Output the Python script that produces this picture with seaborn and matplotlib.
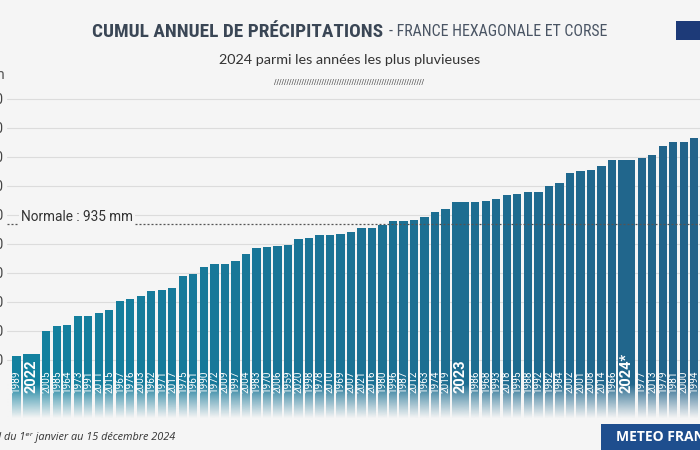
import numpy as np
import pandas as pd
import matplotlib
matplotlib.use("Agg")
import matplotlib.pyplot as plt
import seaborn as sns
from matplotlib import font_manager
from matplotlib.patches import Rectangle
from matplotlib.transforms import blended_transform_factory
from matplotlib.colors import to_rgb

# ---------------- data ----------------
years = ["1989", "2022", "2005", "1985", "1964", "1973", "1991", "2011", "2015", "1967",
         "1976", "2003", "1962", "1971", "2017", "1975", "1961", "1990", "1972", "2009",
         "1997", "2004", "1983", "1970", "2006", "1959", "2020", "1998", "1978", "2010",
         "1969", "2007", "2021", "2016", "1980", "1996", "1987", "2012", "1963", "1974",
         "2019", "2023", "1986", "1968", "1993", "2018", "1995", "1988", "1992", "1982",
         "1984", "2002", "2001", "2008", "2014", "1966", "2024*", "1977", "2013", "1979",
         "1981", "2000", "1994"]
values = [707, 710, 750, 758, 761, 776, 776, 781, 786, 801,
          805, 810, 819, 820, 824, 845, 848, 860, 865, 866,
          871, 882, 893, 895, 897, 899, 909, 910, 916, 916,
          918, 921, 927, 927, 933, 940, 940, 941, 947, 956,
          960, 972, 972, 974, 978, 985, 986, 990, 990, 1000,
          1006, 1023, 1026, 1027, 1035, 1044, 1044, 1049, 1053, 1069,
          1075, 1076, 1083]
highlight = ["2022", "2023", "2024*"]
normale = 935
yticks = [700, 750, 800, 850, 900, 950, 1000, 1050, 1100, 1150]

title_bold = "CUMUL ANNUEL DE PRÉCIPITATIONS"
title_light = "- FRANCE HEXAGONALE ET CORSE"
subtitle = "2024 parmi les années les plus pluvieuses"
footer = "*Cumul du 1\u1d49\u02b3 janvier au 15 décembre 2024"

# ---------------- style ----------------
sns.set_theme(style="white")
plt.rcParams["font.family"] = ["Roboto", "DejaVu Sans"]

available = {f.name for f in font_manager.fontManager.ttflist}
def pick(*names):
    for n in names:
        if n in available:
            return n
    return "DejaVu Sans"
narrow = pick("Liberation Sans Narrow", "DejaVu Sans Condensed", "Roboto Condensed", "Roboto")

BG = "#f5f5f5"
W, H = 700, 450
fig = plt.figure(figsize=(7, 4.5), dpi=100, facecolor=BG)

def pv(y):  # pixel row -> value (used only for layout positions)
    return 700 + (360 - y) * 50 / 29

y_lo, y_hi = pv(418), pv(87.4)
ax = fig.add_axes([7 / W, 1 - 418 / H, 693 / W, (418 - 87.4) / H])
ax.set_facecolor(BG)

slot = np.array([1.83 if y in highlight else 1.0 for y in years])
starts = np.concatenate([[0], np.cumsum(slot)[:-1]])
centers = starts + slot / 2

df = pd.DataFrame({"x": centers, "year": years, "value": values})
palette = sns.blend_palette(["#13819f", "#22638a"], len(years))
sns.barplot(data=df, x="x", y="value", hue="year", hue_order=years, palette=palette,
            native_scale=True, width=0.79, saturation=1, legend=False, dodge=False, ax=ax,
            zorder=2)

# widen highlighted bars
for p in ax.patches:
    cx = p.get_x() + p.get_width() / 2
    i = int(np.argmin(np.abs(centers - cx)))
    bw = slot[i] - 0.21
    p.set_x(centers[i] - bw / 2)
    p.set_width(bw)
    p.set_linewidth(0)

# year labels inside bars
for c, y in zip(centers, years):
    big = y in highlight
    ax.text(c, pv(393), y, rotation=90, ha="center", va="bottom", color="white",
            fontsize=10.5 if big else 7.2, fontweight="bold" if big else "normal",
            zorder=3)

xl = (-0.40, 65.54)
# bottom fade
grad = np.zeros((64, 1, 4))
grad[:, 0, :3] = to_rgb(BG)
grad[:, 0, 3] = np.linspace(0, 1, 64) ** 0.9
ax.imshow(grad, extent=[xl[0], xl[1], y_lo, pv(384)], aspect="auto", zorder=5,
          interpolation="bilinear")

ax.set_xlim(*xl)
ax.set_ylim(y_lo, y_hi)
ax.set_xticks([])
ax.set_xlabel("")
ax.set_ylabel("")
ax.set_yticks(yticks)
ax.set_yticklabels([str(v) for v in yticks])
ax.tick_params(axis="y", length=0, pad=2.5, labelsize=10, labelcolor="#444")
ax.yaxis.grid(True, color="#dcdcdc", lw=0.8)
ax.set_axisbelow(True)
for s in ax.spines.values():
    s.set_visible(False)

# normale
ax.axhline(normale, color="#555555", ls=(0, (1.6, 1.6)), lw=0.9, zorder=4)
tr = blended_transform_factory(ax.transAxes, ax.transData)
ax.text(0.0205, 947, f"Normale : {normale} mm", transform=tr, ha="left", va="center",
        fontsize=9.8, color="#333333", zorder=4,
        bbox=dict(facecolor=BG, edgecolor="none", pad=1.5))

fig.text(5 / W, 1 - 75 / H, "mm", ha="right", va="center", fontsize=10.5, color="#555")

# ---------------- titles ----------------
fig.canvas.draw()
renderer = fig.canvas.get_renderer()
def fit(t, target):
    w = t.get_window_extent(renderer).width
    t.set_fontsize(t.get_fontsize() * target / w)
    return t

t1 = fig.text(383 / W, 1 - 32 / H, title_bold, ha="right", va="center", fontsize=18,
              family=narrow, fontweight="bold", color="#3a4655")
fit(t1, 291)
t2 = fig.text(389 / W, 1 - 32 / H, title_light, ha="left", va="center", fontsize=18,
              family=narrow, color="#4a5564")
fit(t2, 219)
t3 = fig.text(350 / W, 1 - 60 / H, subtitle, ha="center", va="center", fontsize=10,
              family=["Lato", "DejaVu Sans"], color="#333333")
fit(t3, 263)
t4 = fig.text(349 / W, 1 - 82 / H, "/" * 60, ha="center", va="center", fontsize=5,
              family="DejaVu Sans", color="#444444")
fit(t4, 152)

fig.text(175 / W, 1 - 437 / H, footer, ha="right", va="center", fontsize=7.8,
         style="italic", family=["Open Sans", "DejaVu Sans"], color="#333333")

fig.patches.append(Rectangle((601 / W, 0), 99 / W, 26 / H, transform=fig.transFigure,
                             facecolor="#1e4e8e", edgecolor="none"))
fig.text(616 / W, 1 - 437 / H, "METEO FRANCE", ha="left", va="center", fontsize=10,
         fontweight="bold", family=["Open Sans", "DejaVu Sans"], color="white")
fig.patches.append(Rectangle((676 / W, 1 - 40 / H), 24 / W, 19 / H, transform=fig.transFigure,
                             facecolor="#1d3a78", edgecolor="none"))

fig.savefig("out.png", dpi=100, facecolor=BG)
